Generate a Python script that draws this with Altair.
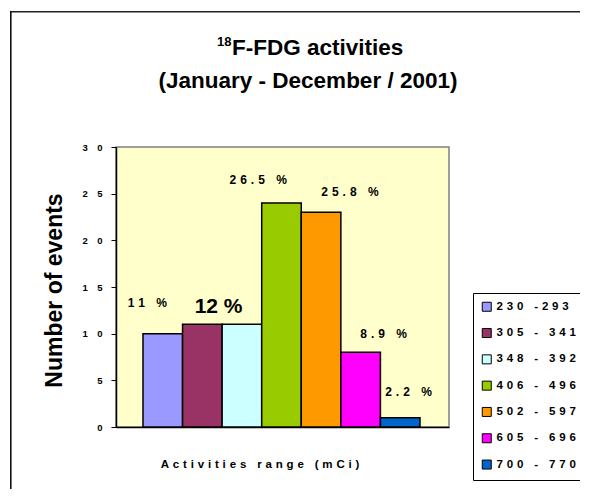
import altair as alt
import pandas as pd

# ---- data ----
ranges = ["230 -293", "305 - 341", "348 - 392", "406 - 496", "502 - 597", "605 - 696", "700 - 770"]
events = [10, 11, 11, 24, 23, 8, 1]
colors = ["#9999FF", "#993366", "#CCFFFF", "#99CC00", "#FF9900", "#FF00FF", "#0066CC"]

pct_labels = ["11 %", "26.5 %", "25.8 %", "8.9 %", "2.2 %"]
pct_x = [0.11, 2.91, 5.23, 6.08, 6.71]
pct_y = [12.9, 26.0, 24.8, 9.5, 3.3]
big_label = ["12 %"]
big_x = [1.91]
big_y = [12.2]

FONT = "Liberation Sans, Arial, Helvetica, sans-serif"
THIRD = "\u2004"
EM = "\u2003"


def spaced(s, sep):
    return sep.join(list(s))


legend_labels = [spaced(r, THIRD) for r in ranges]

bars_df = pd.DataFrame({
    "range": legend_labels,
    "start": list(range(len(events))),
    "end": [i + 1 for i in range(len(events))],
    "events": events,
})
lab_df = pd.DataFrame({"text": [spaced(t, THIRD) for t in pct_labels], "x": pct_x, "y": pct_y})
big_df = pd.DataFrame({"text": big_label, "x": big_x, "y": big_y})
one = pd.DataFrame({"t": [""]})

xscale = alt.Scale(domain=[-0.682, 7.733], nice=False, zero=False)
yscale = alt.Scale(domain=[0, 30], nice=False)

ylabel_expr = ("datum.value >= 10 ? floor(datum.value / 10) + '" + EM +
               "' + (datum.value % 10) : datum.label")

bars = alt.Chart(bars_df).mark_bar(stroke="black", strokeWidth=1.5).encode(
    x=alt.X("start:Q", scale=xscale,
            axis=alt.Axis(title=None, labels=False, ticks=False, grid=False,
                          domainColor="black", domainWidth=1.5)),
    x2="end:Q",
    y=alt.Y("events:Q", scale=yscale,
            axis=alt.Axis(values=[0, 5, 10, 15, 20, 25, 30], grid=False,
                          tickColor="black", tickSize=5, tickWidth=1,
                          domainColor="black", domainWidth=1.5,
                          labelFont=FONT, labelFontSize=9.5, labelFontWeight="bold",
                          labelColor="black", labelPadding=9, labelExpr=ylabel_expr,
                          title="Number of events", titleFont=FONT, titleFontSize=23,
                          titleFontWeight="bold", titleColor="black",
                          titleX=-62, titleY=143, titleBaseline="middle",
                          titleAlign="center", titleAngle=-90)),
    y2=alt.datum(0),
    color=alt.Color("range:N", scale=alt.Scale(domain=legend_labels, range=colors),
                    legend=alt.Legend(orient="none", legendX=357, legendY=146,
                                      direction="vertical", title=None)),
)

labels = alt.Chart(lab_df).mark_text(font=FONT, fontSize=12, fontWeight="bold",
                                     color="black", baseline="alphabetic").encode(
    x=alt.X("x:Q", scale=xscale), y=alt.Y("y:Q", scale=yscale), text="text:N")

big = alt.Chart(big_df).mark_text(font=FONT, fontSize=21, fontWeight="bold",
                                  color="black", baseline="alphabetic").encode(
    x=alt.X("x:Q", scale=xscale), y=alt.Y("y:Q", scale=yscale), text="text:N")

# outer frame drawn as thin filled rectangles (top and left edges)
frame_top = alt.Chart(one).mark_rect(color="#222222", strokeWidth=0).encode(
    x=alt.value(-106), x2=alt.value(464), y=alt.value(-136), y2=alt.value(-134.6))
frame_left = alt.Chart(one).mark_rect(color="#111111", strokeWidth=0).encode(
    x=alt.value(-106), x2=alt.value(-104.4), y=alt.value(-136), y2=alt.value(342))

xtitle = alt.Chart(one).mark_text(font=FONT, fontSize=11.5, fontWeight="bold", color="black",
                                  baseline="alphabetic", align="center").encode(
    x=alt.value(144), y=alt.value(321), text=alt.value(spaced("Activities range (mCi)", THIRD)))

sup = alt.Chart(one).mark_text(font=FONT, fontSize=13, fontWeight="bold", color="black",
                               baseline="alphabetic", align="left").encode(
    x=alt.value(101), y=alt.value(-101), text=alt.value("18"))

title1 = alt.Chart(one).mark_text(font=FONT, fontSize=22.5, fontWeight="bold", color="black",
                                  baseline="alphabetic", align="left").encode(
    x=alt.value(116), y=alt.value(-92), text=alt.value("F-FDG activities"))

title2 = alt.Chart(one).mark_text(font=FONT, fontSize=22.5, fontWeight="bold", color="black",
                                  baseline="alphabetic", align="center").encode(
    x=alt.value(192), y=alt.value(-59), text=alt.value("(January - December / 2001)"))

chart = alt.layer(frame_top, frame_left, bars, labels, big, xtitle, sup, title1, title2).properties(
    width=333, height=280,
    autosize=alt.AutoSizeParams(type="none"),
    padding={"left": 108, "top": 139, "right": 131, "bottom": 62},
).configure_view(
    fill="#FFFFCC", stroke="#808080", strokeWidth=1.5
).configure_legend(
    strokeColor="black", fillColor="white", padding=8,
    symbolType="square", symbolSize=81, symbolStrokeColor="black",
    symbolStrokeWidth=1, symbolOpacity=1,
    labelFont=FONT, labelFontSize=11.5, labelFontWeight="bold", labelColor="black",
    labelOffset=4, rowPadding=12.3, labelLimit=200,
)

chart.save("out.html", embed_options={"renderer": "svg", "actions": False})
